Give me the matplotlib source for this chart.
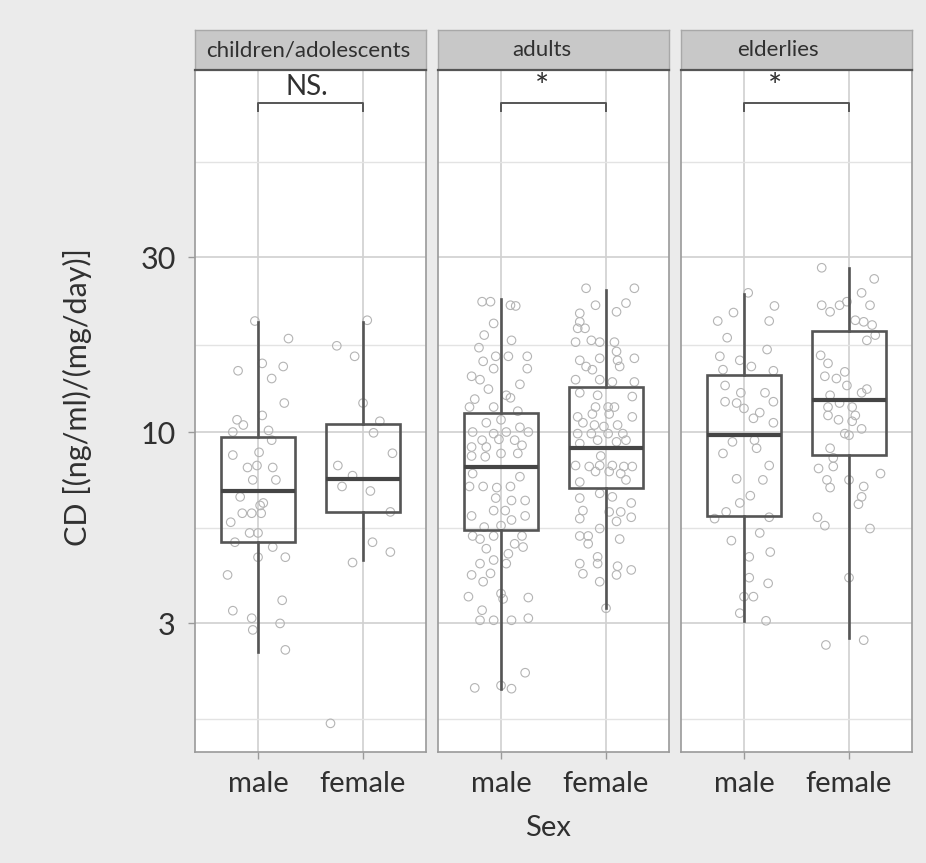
"""
CD by sex across age groups: faceted log-scale boxplots with jittered points.
"""

import matplotlib.pyplot as plt
from matplotlib.ticker import NullFormatter

plt.rcParams["font.family"] = ["Lato", "DejaVu Sans"]

# ── Data ──────────────────────────────────────────────────────────────────────
GROUPS = ["children/adolescents", "adults", "elderlies"]
SEXES = ["male", "female"]
SIGNIF = ["NS.", "*", "*"]

# box statistics per group, (male, female)
Q1 = [[5.01, 6.06], [5.40, 7.01], [5.90, 8.65]]
MEDIAN = [[6.92, 7.43], [8.04, 9.03], [9.81, 12.2]]
Q3 = [[9.71, 10.5], [11.25, 13.3], [14.3, 18.9]]
WHIS_LO = [[2.51, 4.47], [1.99, 3.30], [3.05, 2.73]]
WHIS_HI = [[20.0, 20.0], [23.05, 24.5], [23.9, 28.0]]

# individual observations with their horizontal jitter
child_m_val = [20.1, 18.0, 14.7, 15.4, 15.1, 14.0, 12.0, 11.1, 10.8, 10.45,
               10.0, 10.1, 9.5, 8.65, 8.8, 8.0, 8.1, 8.0, 7.4, 7.4,
               6.65, 6.3, 6.4, 6.0, 6.0, 6.0, 5.67, 5.3, 5.3, 5.0,
               4.85, 4.55, 4.55, 4.07, 3.47, 3.25, 3.1, 3.0, 2.88, 2.54]
child_m_jit = [-0.03, 0.29, -0.19, 0.04, 0.24, 0.13, 0.25, 0.04, -0.2, -0.14,
               -0.24, 0.1, 0.13, -0.24, 0.01, -0.1, -0.01, 0.14, -0.05, 0.17,
               -0.17, 0.02, 0.05, -0.15, -0.06, 0.03, -0.26, -0.08, 0.0, -0.22,
               0.14, 0.0, 0.26, -0.29, 0.23, -0.24, -0.06, 0.21, -0.05, 0.26]

child_f_val = [20.2, 17.2, 16.1, 12.0, 10.7, 9.95, 8.75, 8.1, 7.6, 7.1,
               6.9, 6.05, 5.0, 4.7, 4.4, 1.6]
child_f_jit = [0.04, -0.25, -0.08, 0.0, 0.16, 0.1, 0.28, -0.24, -0.1, -0.2,
               0.07, 0.26, 0.09, 0.26, -0.1, -0.31]

adult_m_val = [22.7, 22.7, 22.2, 22.1, 19.8, 18.4, 17.8, 17.0, 16.1, 16.1,
               16.1, 15.6, 14.9, 14.9, 14.2, 13.9, 13.5, 13.1, 12.6, 12.3,
               12.4, 11.7, 11.7, 11.4, 10.6, 10.8, 10.3, 10.0, 9.9, 10.0,
               10.0, 9.5, 9.55, 9.5, 9.1, 9.1, 9.2, 8.74, 8.74, 8.6,
               8.56, 7.7, 7.55, 7.1, 7.1, 7.05, 7.1, 6.6, 6.5, 6.5,
               6.1, 6.1, 5.9, 5.9, 5.75, 5.55, 5.5, 5.2, 5.1, 5.2,
               5.2, 4.95, 4.8, 4.85, 4.65, 4.47, 4.37, 4.37, 4.11, 4.07,
               3.9, 3.62, 3.55, 3.5, 3.53, 3.26, 3.06, 3.06, 3.06, 3.1,
               2.2, 2.0, 1.99, 2.03]
adult_m_jit = [-0.18, -0.1, 0.09, 0.14, -0.07, -0.16, 0.1, -0.21, -0.05, 0.07,
               0.25, -0.17, -0.07, 0.25, -0.28, -0.2, 0.18, -0.12, 0.05, -0.25,
               0.09, -0.3, -0.07, 0.16, -0.14, 0.0, 0.18, -0.27, -0.07, 0.05,
               0.26, -0.18, -0.02, 0.13, -0.28, -0.14, 0.2, 0.0, 0.16, -0.28,
               -0.15, -0.27, 0.18, -0.3, -0.17, -0.04, 0.09, -0.05, 0.1, 0.23,
               -0.07, 0.04, -0.28, 0.23, 0.1, 0.0, -0.16, -0.27, -0.2, -0.07,
               0.2, 0.13, -0.14, 0.21, 0.07, -0.07, -0.2, 0.05, -0.1, -0.28,
               -0.17, 0.0, -0.31, 0.02, 0.26, -0.18, -0.2, -0.07, 0.1, 0.26,
               0.23, -0.25, 0.1, 0.0]

adult_f_val = [24.7, 24.7, 22.5, 22.2, 21.3, 21.1, 20.0, 19.2, 19.2, 17.8,
               17.6, 17.6, 17.6, 16.6, 15.9, 15.7, 15.7, 15.9, 15.1, 15.1,
               14.8, 13.9, 13.9, 13.7, 13.7, 12.8, 12.6, 12.5, 11.7, 11.7,
               11.7, 11.0, 11.2, 11.2, 11.0, 10.6, 10.45, 10.35, 10.45, 9.9,
               9.9, 9.9, 9.9, 9.5, 9.4, 9.3, 9.5, 8.6, 8.1, 8.05,
               8.1, 8.1, 8.05, 8.05, 7.8, 7.8, 7.7, 7.3, 7.4, 6.8,
               6.65, 6.6, 6.4, 6.1, 6.05, 6.05, 5.8, 5.85, 5.7, 5.45,
               5.2, 5.2, 5.1, 4.95, 4.56, 4.37, 4.37, 4.3, 4.2, 4.1,
               3.9, 4.07, 3.3]
adult_f_jit = [-0.19, 0.27, 0.19, -0.1, 0.1, -0.25, -0.25, -0.27, -0.2, -0.14,
               -0.06, -0.29, 0.08, 0.1, -0.06, -0.25, 0.11, 0.27, -0.19, 0.13,
               -0.13, -0.29, -0.06, 0.06, 0.27, -0.25, -0.08, 0.25, -0.1, 0.02,
               0.08, -0.27, -0.13, 0.03, 0.25, -0.22, -0.11, -0.02, 0.11, -0.27,
               -0.14, 0.02, 0.16, -0.08, 0.1, -0.25, 0.19, -0.05, -0.29, -0.16,
               -0.06, 0.06, 0.17, 0.25, -0.1, 0.03, 0.14, -0.25, 0.19, -0.06,
               0.06, -0.25, 0.24, -0.22, 0.03, 0.14, -0.25, 0.24, 0.1, -0.06,
               -0.25, -0.17, 0.13, -0.17, -0.08, -0.25, -0.08, 0.11, 0.24, -0.22,
               -0.06, 0.1, 0.0]

elder_m_val = [24.0, 22.1, 21.2, 20.1, 20.1, 18.1, 16.8, 16.1, 15.7, 14.8,
               15.1, 14.7, 13.4, 12.8, 12.8, 12.1, 12.0, 11.6, 12.1, 11.3,
               10.9, 10.6, 9.4, 9.5, 9.03, 8.74, 8.1, 7.45, 7.4, 6.7,
               6.4, 6.05, 5.8, 5.85, 5.3, 5.05, 4.7, 4.56, 4.0, 3.86,
               3.55, 3.55, 3.2, 3.05]
elder_m_jit = [0.04, 0.29, -0.1, -0.25, 0.24, -0.16, 0.22, -0.23, -0.04, -0.2,
               0.07, 0.28, -0.18, -0.03, 0.2, -0.18, -0.07, 0.0, 0.28, 0.15,
               0.09, 0.28, -0.11, 0.1, 0.12, -0.2, 0.24, -0.07, 0.18, 0.06,
               -0.04, -0.17, -0.28, 0.24, 0.15, -0.12, 0.25, 0.05, 0.05, 0.23,
               0.0, 0.09, -0.04, 0.21]

elder_f_val = [28.1, 26.2, 24.0, 22.2, 22.2, 21.3, 22.2, 22.7, 20.2, 20.0,
               19.6, 17.8, 18.4, 16.2, 15.4, 14.6, 14.2, 14.0, 13.4, 13.1,
               12.6, 12.8, 12.0, 11.7, 11.7, 11.1, 10.8, 11.1, 10.7, 10.2,
               9.9, 9.8, 9.03, 8.5, 7.95, 8.05, 7.7, 7.4, 7.4, 7.05,
               7.1, 6.65, 6.35, 5.85, 5.55, 5.45, 4.0, 2.7, 2.62]
elder_f_jit = [-0.26, 0.24, 0.12, 0.2, -0.26, -0.18, -0.09, -0.02, 0.06, 0.14,
               0.22, 0.17, 0.25, -0.27, -0.2, -0.04, -0.23, -0.12, -0.02, 0.17,
               -0.18, 0.12, -0.09, -0.2, 0.03, -0.2, -0.1, 0.06, 0.03, 0.12,
               -0.04, 0.0, -0.18, -0.15, -0.29, -0.15, 0.3, 0.0, -0.21, -0.18,
               0.14, 0.12, 0.09, -0.3, -0.23, 0.2, 0.0, 0.14, -0.22]

POINTS = [
    [(child_m_val, child_m_jit), (child_f_val, child_f_jit)],
    [(adult_m_val, adult_m_jit), (adult_f_val, adult_f_jit)],
    [(elder_m_val, elder_m_jit), (elder_f_val, elder_f_jit)],
]

Y_TICKS = [3, 10, 30]
Y_MINOR = [1.643, 5.477, 17.32, 54.77]
Y_LIM = (1.336, 97.5)
BRACKET_Y = 79.0
BRACKET_DROP = 75.5

# ── Style ─────────────────────────────────────────────────────────────────────
BG = "#ebebeb"
STRIP = "#c8c8c8"
DARK = "#555555"
POINT = "#b4b4b4"
TEXT = "#303030"

PANEL_LEFT = [0.2106, 0.4730, 0.7354]
PANEL_W = 0.2495
PANEL_B = 0.1286
PANEL_H = 0.7903
STRIP_H = 0.0463

# label anchors: strip titles (axes fraction) and significance marks (x data)
STRIP_X = [0.489, 0.45, 0.418]
SIGNIF_X = [1.464, 1.392, 1.30]

fig = plt.figure(figsize=(9.26, 8.63), dpi=100, facecolor=BG)

for g, name in enumerate(GROUPS):
    ax = fig.add_axes([PANEL_LEFT[g], PANEL_B, PANEL_W, PANEL_H])
    ax.set_facecolor("white")
    ax.set_yscale("log")

    # jittered points
    for s in range(2):
        vals, jit = POINTS[g][s]
        xs = [s + 1 + j for j in jit]
        ax.scatter(xs, vals, s=38, facecolors="none", edgecolors=POINT,
                   linewidths=0.8, zorder=2)

    # boxes
    stats = [
        {"med": MEDIAN[g][s], "q1": Q1[g][s], "q3": Q3[g][s],
         "whislo": WHIS_LO[g][s], "whishi": WHIS_HI[g][s], "fliers": []}
        for s in range(2)
    ]
    ax.bxp(stats, positions=[1, 2], widths=0.7, showfliers=False,
           showcaps=False, patch_artist=True,
           boxprops=dict(facecolor="none", edgecolor=DARK, linewidth=1.9),
           medianprops=dict(color="#454545", linewidth=3.0),
           whiskerprops=dict(color=DARK, linewidth=1.9),
           zorder=3)

    ax.set_ylim(*Y_LIM)
    ax.set_xlim(0.4, 2.6)

    # grid
    ax.set_yticks(Y_TICKS)
    ax.set_yticks(Y_MINOR, minor=True)
    ax.yaxis.set_minor_formatter(NullFormatter())
    ax.set_xticks([1, 2])
    ax.set_xticklabels(SEXES)
    ax.set_axisbelow(True)
    ax.grid(which="major", color="#d0d0d0", linewidth=1.2)
    ax.grid(which="minor", axis="y", color="#e3e3e3", linewidth=1.0)

    # significance bracket
    ax.plot([1, 1, 2, 2], [BRACKET_DROP, BRACKET_Y, BRACKET_Y, BRACKET_DROP],
            color=DARK, linewidth=1.4, zorder=4)
    if SIGNIF[g] == "*":
        ax.text(SIGNIF_X[g], BRACKET_Y * 1.0, SIGNIF[g], ha="center",
                va="bottom", fontsize=24, color=TEXT)
    else:
        ax.text(SIGNIF_X[g], BRACKET_Y * 1.02, SIGNIF[g], ha="center",
                va="bottom", fontsize=20, color=TEXT)

    for sp in ax.spines.values():
        sp.set_color("#9a9a9a")
        sp.set_linewidth(1.2)

    ax.tick_params(axis="x", which="major", length=5, width=1, color="#9a9a9a",
                   labelsize=21, labelcolor=TEXT, pad=9)
    ax.tick_params(axis="y", which="minor", length=0)
    if g == 0:
        ax.set_yticklabels([str(t) for t in Y_TICKS])
        ax.tick_params(axis="y", which="major", length=5, width=1,
                       color="#9a9a9a", labelsize=22, labelcolor=TEXT,
                       pad=9)
    else:
        ax.tick_params(axis="y", which="major", length=0, labelleft=False)

    # facet strip
    st = fig.add_axes([PANEL_LEFT[g], PANEL_B + PANEL_H, PANEL_W, STRIP_H])
    st.set_facecolor(STRIP)
    st.set_xticks([])
    st.set_yticks([])
    for sp in st.spines.values():
        sp.set_color("#a8a8a8")
        sp.set_linewidth(1.0)
    st.spines["bottom"].set_color(DARK)
    st.spines["bottom"].set_linewidth(1.6)
    st.text(STRIP_X[g], 0.5, name, ha="center", va="center", fontsize=16,
            color=TEXT, transform=st.transAxes)

fig.text(0.084, 0.54, "CD [(ng/ml)/(mg/day)]", rotation=90, ha="center",
         va="center", fontsize=22, color=TEXT)
fig.text(0.592, 0.040, "Sex", ha="center", va="center", fontsize=21,
         color=TEXT)

fig.savefig("out.png", dpi=100, facecolor=BG)
